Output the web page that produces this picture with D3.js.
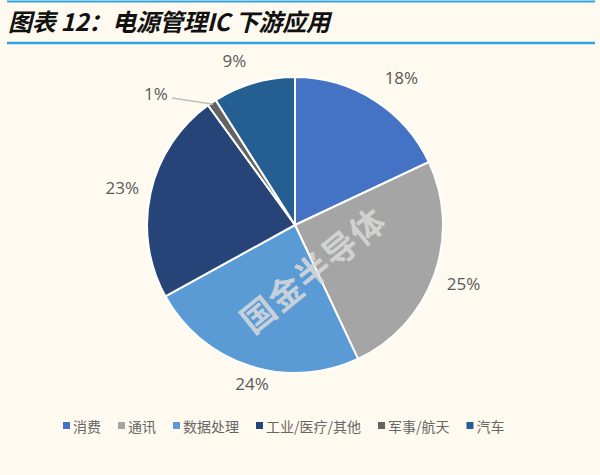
<!DOCTYPE html>
<html><head><meta charset="utf-8">
<script src="https://cdn.jsdelivr.net/npm/d3@7/dist/d3.min.js"></script>
<style>body{margin:0;background:#fffaf0;}svg{display:block;}</style>
</head><body>
<svg id="c" width="600" height="475"></svg>
<script>
const categories = ["消费","通讯","数据处理","工业/医疗/其他","军事/航天","汽车"];
const values = [18,25,24,23,1,9];
const labels = ["18%","25%","24%","23%","1%","9%"];
const colors = ["#4472C4","#A5A5A5","#5B9BD5","#264478","#636363","#255E91"];
const title = "图表 12：电源管理IC 下游应用";

const svg = d3.select("#c");
svg.append("rect").attr("width",600).attr("height",475).attr("fill","#fffaf0");
// title
svg.append("line").attr("x1",7).attr("x2",595).attr("y1",1.5).attr("y2",1.5).attr("stroke","#2EA3DF").attr("stroke-width",2);
svg.append("line").attr("x1",7).attr("x2",595).attr("y1",43).attr("y2",43).attr("stroke","#2EA3DF").attr("stroke-width",2.5);
svg.append("text").attr("x",8).attr("y",31).text(title)
  .attr("font-family","'Noto Sans CJK SC',sans-serif").attr("font-size",24).attr("font-weight","bold")
  .attr("font-style","italic").attr("fill","#111").attr("textLength",322).attr("lengthAdjust","spacing");

const cx=295, cy=225, r=148;
const pie = d3.pie().sort(null).value(d=>d)(values);
const arc = d3.arc().innerRadius(0).outerRadius(r);
const g = svg.append("g").attr("transform",`translate(${cx},${cy})`);
g.selectAll("path").data(pie).join("path").attr("d",arc)
  .attr("fill",(d,i)=>colors[i]).attr("stroke","#fff").attr("stroke-width",2);

// labels (outside end, nudged as in the original)
const labelArc = d3.arc().innerRadius(r+30).outerRadius(r+30);
const nudge = [[11,3],[1,-2],[12,-11],[1,1],[0,0],[-11,6]];
g.selectAll("text.l").data(pie).join("text").attr("class","l")
  .attr("font-family","'Open Sans','Noto Sans',sans-serif").attr("font-size",17).attr("fill","#595959")
  .attr("text-anchor","middle").attr("dominant-baseline","central")
  .text((d,i)=>labels[i])
  .attr("transform",(d,i)=>{
    let [x,y]=labelArc.centroid(d);
    if(i===4){ x=-139; y=-132; } else { x+=nudge[i][0]; y+=nudge[i][1]; }
    return `translate(${x},${y})`;
  });
// leader line for small slice
const small = pie[4];
const mid = (small.startAngle+small.endAngle)/2;
const px = Math.sin(mid)*(r-2), py = -Math.cos(mid)*(r-2);
g.append("polyline").attr("points",`${-123},${-127} ${px},${py}`)
  .attr("fill","none").attr("stroke","#BFBFBF").attr("stroke-width",1.5);

// watermark
svg.append("text").attr("transform","translate(312,269) rotate(-39)")
  .attr("text-anchor","middle").attr("dominant-baseline","central")
  .attr("font-family","'Noto Sans CJK SC',sans-serif").attr("font-size",34).attr("font-weight","bold")
  .attr("fill","#dadada").attr("fill-opacity",0.85).attr("letter-spacing",1).text("国金半导体");

// legend
const leg = svg.append("g");
let x = 63;
categories.forEach((c,i)=>{
  leg.append("rect").attr("x",x).attr("y",422).attr("width",7).attr("height",7).attr("fill",colors[i]);
  const t = leg.append("text").attr("x",x+10).attr("y",426).attr("dominant-baseline","central")
    .attr("font-family","'Noto Sans CJK SC',sans-serif").attr("font-size",14).attr("fill","#666").text(c);
  x += 10 + t.node().getComputedTextLength() + 17;
});
</script>
</body></html>
